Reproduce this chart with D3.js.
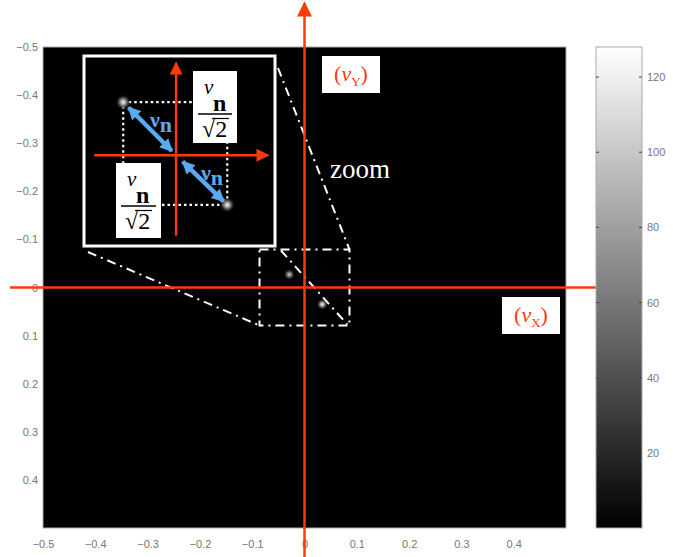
<!DOCTYPE html>
<html lang="en">
<head>
<meta charset="UTF-8">
<title>Spectrum zoom</title>
<script src="https://d3js.org/d3.v7.min.js"></script>
<style>
  body { margin: 0; background: #fff; }
  svg { display: block; }
  .tick text { font-family: Arial, "Liberation Sans", sans-serif; font-size: 11px; fill: #777; }
</style>
</head>
<body>
<svg width="673" height="557"></svg>
<script>
// ---- data ----
var xTicks = [-0.5, -0.4, -0.3, -0.2, -0.1, 0, 0.1, 0.2, 0.3, 0.4];
var yTicks = [-0.5, -0.4, -0.3, -0.2, -0.1, 0, 0.1, 0.2, 0.3, 0.4];
var cbTicks = [20, 40, 60, 80, 100, 120];
var cbMax = 128;
var spotX = [-0.029, 0.034];
var spotY = [-0.027, 0.035];
var spotPeak = [105, 128];
var zoomBox = [-0.086, 0.086, -0.079, 0.079];      // x0, x1, y0, y1
var insetSpotX = [-0.031, 0.030];
var insetSpotY = [-0.031, 0.029];

var svg = d3.select("svg");
var red = "#ff3a0a", blue = "#5aaaf0";

var x = d3.scaleLinear().domain([-0.5, 0.5]).range([43, 566]);
var y = d3.scaleLinear().domain([-0.5, 0.5]).range([47, 528]);
var color = d3.scaleLinear().domain([0, cbMax]).range(["#000", "#fff"]);
var cy = d3.scaleLinear().domain([0, cbMax]).range([528, 47]);

var defs = svg.append("defs");
spotPeak.forEach(function (p, i) {
  var g = defs.append("radialGradient").attr("id", "spot" + i);
  g.append("stop").attr("offset", "0%").attr("stop-color", color(p));
  g.append("stop").attr("offset", "45%").attr("stop-color", color(p * 0.45));
  g.append("stop").attr("offset", "100%").attr("stop-color", "#000").attr("stop-opacity", 0);
});
var cbg = defs.append("linearGradient").attr("id", "cbar")
  .attr("x1", 0).attr("y1", 1).attr("x2", 0).attr("y2", 0);
cbg.append("stop").attr("offset", "0%").attr("stop-color", color(0));
cbg.append("stop").attr("offset", "100%").attr("stop-color", color(cbMax));

function arrowMarker(id, col, w, h) {
  defs.append("marker").attr("id", id)
    .attr("viewBox", "0 0 10 10").attr("refX", 9).attr("refY", 5)
    .attr("markerUnits", "userSpaceOnUse")
    .attr("markerWidth", w).attr("markerHeight", h)
    .attr("orient", "auto-start-reverse")
    .append("path").attr("d", "M0,0 L10,5 L0,10 Z").attr("fill", col);
}
arrowMarker("redHead", red, 17, 15);
arrowMarker("redHeadS", red, 13, 13);
arrowMarker("blueHead", blue, 13, 13);

// ---- main image ----
svg.append("rect").attr("x", x(-0.5)).attr("y", y(-0.5))
  .attr("width", x(0.5) - x(-0.5)).attr("height", y(0.5) - y(-0.5))
  .attr("fill", "#000").attr("stroke", "#aaa").attr("stroke-width", 1);

svg.append("g").attr("class", "tick-x")
  .attr("transform", "translate(0," + y(0.5) + ")")
  .call(d3.axisBottom(x).tickValues(xTicks).tickSize(0).tickPadding(12)
    .tickFormat(function (d) { return d === 0 ? "0" : d3.format(".1f")(d); }))
  .call(function (g) { g.select(".domain").remove(); });

svg.append("g")
  .attr("transform", "translate(" + x(-0.5) + ",0)")
  .call(d3.axisLeft(y).tickValues(yTicks).tickSize(0).tickPadding(5)
    .tickFormat(function (d) { return d === 0 ? "0" : d3.format(".1f")(d); }))
  .call(function (g) { g.select(".domain").remove(); });

svg.selectAll(".mspot").data(spotX).enter().append("circle")
  .attr("cx", function (d) { return x(d); })
  .attr("cy", function (d, i) { return y(spotY[i]); })
  .attr("r", 6)
  .attr("fill", function (d, i) { return "url(#spot" + i + ")"; });

// dash-dot zoom guides
var dd = svg.append("g").attr("fill", "none").attr("stroke", "#fff")
  .attr("stroke-width", 2).attr("stroke-dasharray", "9,5,2,5");
dd.append("rect").attr("x", x(zoomBox[0])).attr("y", y(zoomBox[2]))
  .attr("width", x(zoomBox[1]) - x(zoomBox[0])).attr("height", y(zoomBox[3]) - y(zoomBox[2]));
dd.append("line").attr("x1", 88).attr("y1", 252).attr("x2", x(zoomBox[0])).attr("y2", y(zoomBox[3]));
dd.append("line").attr("x1", 278).attr("y1", 68).attr("x2", x(zoomBox[1])).attr("y2", y(zoomBox[2]));
dd.append("line").attr("x1", x(-0.045)).attr("y1", y(-0.077)).attr("x2", x(0.082)).attr("y2", y(0.077));

svg.append("text").attr("x", 330).attr("y", 178)
  .attr("font-family", "'Liberation Serif', 'Times New Roman', serif")
  .attr("font-size", 27).attr("fill", "#fff").text("zoom");

// ---- inset ----
var ix = d3.scaleLinear().domain([-0.054, 0.058]).range([84, 275]);
var iy = d3.scaleLinear().domain([-0.058, 0.053]).range([56, 246]);
var inset = svg.append("g");
inset.append("rect").attr("x", 84).attr("y", 56).attr("width", 191).attr("height", 190)
  .attr("fill", "#000").attr("stroke", "#fff").attr("stroke-width", 3);

var p0 = [ix(insetSpotX[0]), iy(insetSpotY[0])];
var p1 = [ix(insetSpotX[1]), iy(insetSpotY[1])];
inset.append("path")
  .attr("d", "M" + p0 + "L" + [p1[0], p0[1]] + "L" + p1 + "L" + [p0[0], p1[1]] + "Z")
  .attr("fill", "none").attr("stroke", "#fff").attr("stroke-width", 2.2)
  .attr("stroke-dasharray", "2.5,3");

[p0, p1].forEach(function (p, i) {
  inset.append("circle").attr("cx", p[0]).attr("cy", p[1]).attr("r", 8)
    .attr("fill", "url(#spot1)");
});

inset.append("line").attr("x1", ix(-0.048)).attr("y1", iy(0)).attr("x2", ix(0.054)).attr("y2", iy(0))
  .attr("stroke", red).attr("stroke-width", 2.5).attr("marker-end", "url(#redHeadS)");
inset.append("line").attr("x1", ix(0)).attr("y1", iy(0.047)).attr("x2", ix(0)).attr("y2", iy(-0.054))
  .attr("stroke", red).attr("stroke-width", 2.5).attr("marker-end", "url(#redHeadS)");

var o = [ix(0), iy(0)];
function lerp(a, b, t) { return [a[0] + (b[0] - a[0]) * t, a[1] + (b[1] - a[1]) * t]; }
[[p0, 0.1, 0.92], [p1, 0.07, 0.87]].forEach(function (s) {
  var a = lerp(s[0], o, s[1]), b = lerp(s[0], o, s[2]);
  inset.append("line").attr("x1", a[0]).attr("y1", a[1]).attr("x2", b[0]).attr("y2", b[1])
    .attr("stroke", blue).attr("stroke-width", 4.5)
    .attr("marker-start", "url(#blueHead)").attr("marker-end", "url(#blueHead)");
});

function nuN(g, px, py, size, col) {
  var t = g.append("text").attr("x", px).attr("y", py).attr("fill", col)
    .attr("font-family", "'Liberation Serif', 'Times New Roman', serif").attr("font-size", size);
  t.append("tspan").attr("font-weight", "bold").text("\u03bd");
  t.append("tspan").attr("font-weight", "bold").attr("dy", size * 0.22).text("n");
}
nuN(inset, 150, 127, 22, blue);
nuN(inset, 201, 180, 22, blue);

function fracBox(g, bx, by, bw, bh) {
  g.append("rect").attr("x", bx).attr("y", by).attr("width", bw).attr("height", bh).attr("fill", "#fff");
  var f = "'Liberation Serif', 'Times New Roman', serif";
  g.append("text").attr("x", bx + 11).attr("y", by + 23).attr("font-family", f)
    .attr("font-style", "italic").attr("font-size", 21).text("\u03bd");
  g.append("text").attr("x", bx + 20).attr("y", by + 40).attr("font-family", f)
    .attr("font-weight", "bold").attr("font-size", 24).text("n");
  g.append("line").attr("x1", bx + 5).attr("x2", bx + bw - 5)
    .attr("y1", by + 43).attr("y2", by + 43).attr("stroke", "#000").attr("stroke-width", 1.3);
  g.append("text").attr("x", bx + 9).attr("y", by + 66).attr("font-family", f)
    .attr("font-size", 24).text("\u221a2");
  g.append("line").attr("x1", bx + 19).attr("x2", bx + 36)
    .attr("y1", by + 47.5).attr("y2", by + 47.5).attr("stroke", "#000").attr("stroke-width", 1.2);
}
fracBox(inset, 193, 71, 44, 72);
fracBox(inset, 116, 163, 45, 75);

// ---- main axes arrows ----
svg.append("line").attr("x1", 10).attr("y1", y(0)).attr("x2", 625).attr("y2", y(0))
  .attr("stroke", red).attr("stroke-width", 2.5).attr("marker-end", "url(#redHead)");
svg.append("line").attr("x1", x(0)).attr("y1", 557).attr("x2", x(0)).attr("y2", 3)
  .attr("stroke", red).attr("stroke-width", 2.5).attr("marker-end", "url(#redHead)");

function axisLabel(bx, by, sub) {
  svg.append("rect").attr("x", bx).attr("y", by).attr("width", 58).attr("height", 37).attr("fill", "#fff");
  var t = svg.append("text").attr("x", bx + 29).attr("y", by + 25).attr("text-anchor", "middle")
    .attr("fill", red).attr("font-family", "'Liberation Serif', 'Times New Roman', serif").attr("font-size", 22);
  t.append("tspan").text("(");
  t.append("tspan").attr("font-style", "italic").text("\u03bd");
  t.append("tspan").attr("font-size", 13).attr("dy", 5).text(sub);
  t.append("tspan").attr("dy", -5).text(")");
}
axisLabel(322, 56, "Y");
axisLabel(502, 297, "X");

// ---- colorbar ----
svg.append("rect").attr("x", 596).attr("y", cy(cbMax)).attr("width", 46)
  .attr("height", cy(0) - cy(cbMax)).attr("fill", "url(#cbar)")
  .attr("stroke", "#aaa").attr("stroke-width", 1);
svg.append("g").selectAll("path").data(cbTicks).enter().append("path")
  .attr("d", function (d) { return "M596," + cy(d) + "h3M642," + cy(d) + "h-3"; })
  .attr("stroke", "#444").attr("stroke-width", 1);
svg.append("g").attr("transform", "translate(642,0)")
  .call(d3.axisRight(cy).tickValues(cbTicks).tickSize(0).tickPadding(5))
  .call(function (g) { g.select(".domain").remove(); });
</script>
</body>
</html>
